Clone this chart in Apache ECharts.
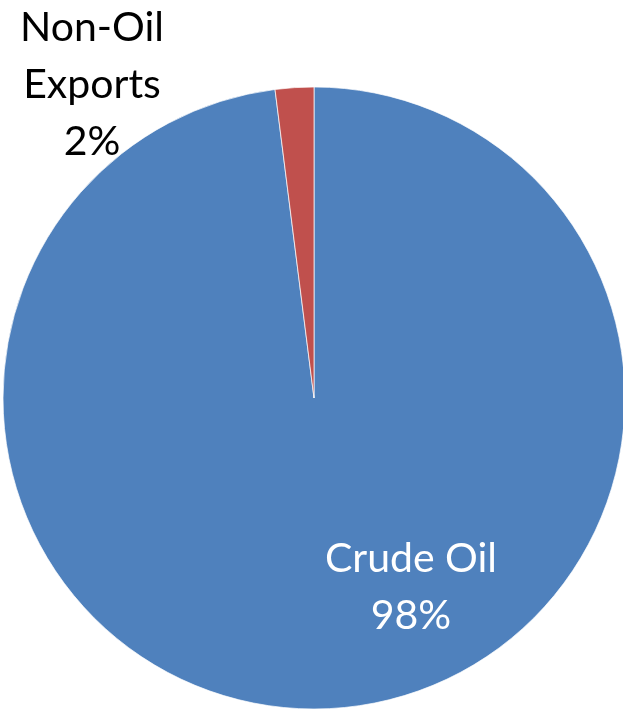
<!DOCTYPE html>
<html>
<head>
<meta charset="utf-8">
<script src="https://cdn.jsdelivr.net/npm/echarts@6/dist/echarts.min.js"></script>
<style>
  html, body { margin: 0; padding: 0; background: #fff; }
  #chart { width: 623px; height: 712px; }
</style>
</head>
<body>
<div id="chart"></div>
<script>
const categories = ["Crude Oil", "Non-Oil Exports"];
const shares = [98, 2];
const sliceColors = ["#4F81BD", "#C0504D"];
const labelText = ["Crude Oil\n98%", "Non-Oil\nExports\n2%"];

const chartInst = echarts.init(document.getElementById("chart"));

// label spots
const labelSpots = [
  { x: 411, y: 587, color: "#fff" },
  { x: 92, y: 85, color: "#000" },
];

const option = {
  animation: false,
  series: [
    {
      type: "pie",
      center: [314, 398],
      radius: [0, 311],
      startAngle: 90,
      clockwise: true,
      data: categories.map((c, i) => ({
        name: c,
        value: shares[i],
        itemStyle: { color: sliceColors[i] },
        label: { color: labelSpots[i].color },
      })),
      itemStyle: {
        borderColor: "rgba(255,255,255,0.7)",
        borderWidth: 1,
      },
      label: {
        show: true,
        position: "inside",
        formatter: (p) => labelText[p.dataIndex],
        fontFamily: "Lato",
        fontSize: 41,
        lineHeight: 57,
        align: "center",
      },
      labelLine: { show: false },
      labelLayout: (params) => ({
        x: labelSpots[params.dataIndex].x,
        y: labelSpots[params.dataIndex].y,
        align: "center",
        verticalAlign: "middle",
      }),
    },
  ],
};
chartInst.setOption(option);
</script>
</body>
</html>
